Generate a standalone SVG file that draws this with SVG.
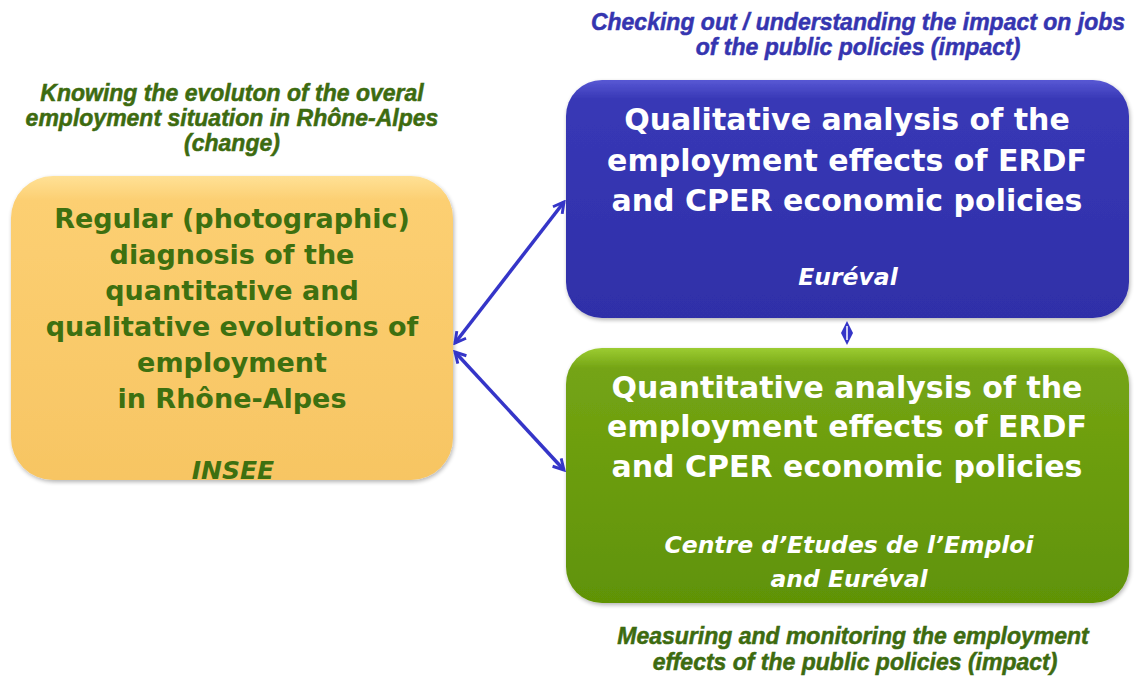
<svg xmlns="http://www.w3.org/2000/svg" width="1136" height="677" viewBox="0 0 1136 677">
<defs>
<style>
.cap{font-family:"Liberation Sans",Arial,sans-serif;font-weight:bold;font-style:italic;font-size:23px;text-anchor:middle;stroke-width:0.5}
.capg{fill:#3d6b10;stroke:#3d6b10}
.capb{fill:#3535b0;stroke:#3535b0}
.t{font-family:"DejaVu Sans",Verdana,sans-serif;font-weight:bold;text-anchor:middle}
.big{font-size:30px;fill:#ffffff}
.org{font-size:27px;fill:#3d7010}
.sub{font-size:23.5px;font-style:italic;fill:#ffffff}
.subg{font-size:25px;font-style:italic;fill:#3d7010}
.conn{stroke:#3535c8;stroke-width:3.5;fill:none}
</style>
<linearGradient id="gO" x1="0" y1="0" x2="0" y2="1">
<stop offset="0" stop-color="#ffe196"/><stop offset="0.08" stop-color="#fccf72"/><stop offset="1" stop-color="#f7c563"/>
</linearGradient>
<linearGradient id="gB" x1="0" y1="0" x2="0" y2="1">
<stop offset="0" stop-color="#5858d4"/><stop offset="0.08" stop-color="#3838b6"/><stop offset="1" stop-color="#2f2fa8"/>
</linearGradient>
<linearGradient id="gG" x1="0" y1="0" x2="0" y2="1">
<stop offset="0" stop-color="#9ccc32"/><stop offset="0.08" stop-color="#74a414"/><stop offset="1" stop-color="#609306"/>
</linearGradient>
<filter id="sh" x="-5%" y="-5%" width="110%" height="115%">
<feGaussianBlur in="SourceAlpha" stdDeviation="2"/><feOffset dx="1" dy="2"/>
<feComponentTransfer><feFuncA type="linear" slope="0.3"/></feComponentTransfer>
<feMerge><feMergeNode/><feMergeNode in="SourceGraphic"/></feMerge>
</filter>
<marker id="ah" viewBox="0 0 12 12" refX="10" refY="6" markerWidth="4" markerHeight="4" orient="auto-start-reverse" markerUnits="strokeWidth">
<path d="M1,1 L10,6 L1,11" fill="none" stroke="#3535c8" stroke-width="2.5" stroke-linejoin="miter"/>
</marker>
</defs>
<rect width="1136" height="677" fill="#ffffff"/>

<g id="caption-left">
<text class="cap capg" x="232" y="101">Knowing the evoluton of the overal</text>
<text class="cap capg" x="232" y="126">employment situation in Rhône-Alpes</text>
<text class="cap capg" x="232" y="151">(change)</text>
</g>
<g id="caption-top">
<text class="cap capb" x="858" y="30">Checking out / understanding the impact on jobs</text>
<text class="cap capb" x="858" y="55">of the public policies (impact)</text>
</g>
<g id="caption-bottom">
<text class="cap capg" x="853" y="644">Measuring and monitoring the employment</text>
<text class="cap capg" x="855" y="670">effects of the public policies (impact)</text>
</g>

<g id="node-insee">
<rect x="11" y="176" width="442" height="304" rx="42" ry="42" fill="url(#gO)" filter="url(#sh)"/>
<text class="t org" x="232" y="228">Regular (photographic)</text>
<text class="t org" x="232" y="264">diagnosis of the</text>
<text class="t org" x="232" y="300">quantitative and</text>
<text class="t org" x="232" y="336">qualitative evolutions of</text>
<text class="t org" x="232" y="372">employment</text>
<text class="t org" x="232" y="408">in Rhône-Alpes</text>
<text class="t subg" x="233" y="479">INSEE</text>
</g>

<g id="node-qualitative">
<rect x="566" y="80" width="563" height="238" rx="36" ry="36" fill="url(#gB)" filter="url(#sh)"/>
<text class="t big" x="847" y="130">Qualitative analysis of the</text>
<text class="t big" x="847" y="171">employment effects of ERDF</text>
<text class="t big" x="847" y="211">and CPER economic policies</text>
<text class="t sub" x="848" y="285">Euréval</text>
</g>

<g id="node-quantitative">
<rect x="566" y="348" width="563" height="255" rx="36" ry="36" fill="url(#gG)" filter="url(#sh)"/>
<text class="t big" x="847" y="398">Quantitative analysis of the</text>
<text class="t big" x="847" y="437">employment effects of ERDF</text>
<text class="t big" x="847" y="477">and CPER economic policies</text>
<text class="t sub" x="849" y="553">Centre d’Etudes de l’Emploi</text>
<text class="t sub" x="849" y="587">and Euréval</text>
</g>

<g id="connectors">
<line class="conn" x1="455" y1="343" x2="564" y2="202" marker-start="url(#ah)" marker-end="url(#ah)"/>
<line class="conn" x1="455" y1="352" x2="564" y2="470" marker-start="url(#ah)" marker-end="url(#ah)"/>
<path d="M847,321 L853,333 L847,345 L841,333 Z" fill="#3535c8"/>
<path d="M847,326 L847,340" stroke="#ffffff" stroke-width="1.5"/>
</g>
</svg>
